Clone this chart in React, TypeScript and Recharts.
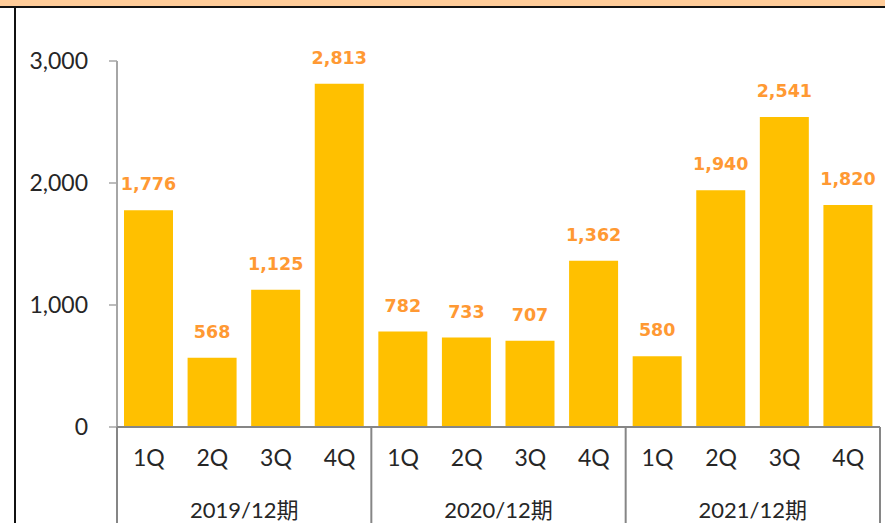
import React from 'react';
import { BarChart, Bar, XAxis, YAxis, LabelList } from 'recharts';

const quarters = ['1Q', '2Q', '3Q', '4Q', '1Q', '2Q', '3Q', '4Q', '1Q', '2Q', '3Q', '4Q'];
const periods = ['2019/12期', '2020/12期', '2021/12期'];
const values = [1776, 568, 1125, 2813, 782, 733, 707, 1362, 580, 1940, 2541, 1820];
const yTicks = [0, 1000, 2000, 3000];

const W = 885;
const H = 523;
const LEFT = 117;
const RIGHT = 5;
const BAND = (W - LEFT - RIGHT) / quarters.length;
const AXIS_GRAY = '#868686';
const FONT = "Lato, 'Noto Sans CJK JP', sans-serif";

const data = values.map((v, i) => ({
  q: quarters[i],
  period: periods[Math.floor(i / 4)],
  value: v,
}));

const fmt = (v: number) => v.toLocaleString('en-US');

// second row: period names centred under each group of four, plus dividers
function PeriodTick(props: any) {
  const { x, y, index } = props;
  const start = x - BAND / 2;
  const parts: React.ReactNode[] = [];
  if (index % 4 === 0) {
    parts.push(
      <line key="l" x1={start} x2={start} y1={y - 40} y2={y + 60} stroke={AXIS_GRAY} strokeWidth={2} />
    );
    parts.push(
      <text
        key="t"
        x={start + BAND * 2}
        y={y + 51}
        textAnchor="middle"
        fontSize={22}
        fontFamily={FONT}
        fill="#262626"
      >
        {periods[Math.floor(index / 4)]}
      </text>
    );
  }
  if (index === quarters.length - 1) {
    parts.push(
      <line key="e" x1={x + BAND / 2} x2={x + BAND / 2} y1={y - 40} y2={y + 60} stroke={AXIS_GRAY} strokeWidth={2} />
    );
  }
  return <g>{parts}</g>;
}

export default function App() {
  return (
    <div style={{ position: 'absolute', left: 0, top: 0, width: W, height: H, background: '#fff', overflow: 'hidden' }}>
      <div style={{ position: 'absolute', left: 0, top: 0, width: W, height: 6, background: '#FFCC99' }} />
      <div style={{ position: 'absolute', left: 0, top: 6, width: W, height: 2, background: '#111' }} />
      <div style={{ position: 'absolute', left: 14, top: 6, width: 2, height: H - 6, background: '#111' }} />
      <div style={{ position: 'absolute', left: 0, top: 0 }}>
        <BarChart width={W} height={H} data={data} margin={{ top: 61, right: RIGHT, left: 0, bottom: 0 }}>
          <YAxis
            width={LEFT}
            domain={[0, 3000]}
            ticks={yTicks}
            tickFormatter={fmt}
            axisLine={{ stroke: '#A6A6A6', strokeWidth: 2 }}
            tickLine={{ stroke: '#A6A6A6', strokeWidth: 1.5 }}
            tickSize={8}
            tickMargin={21}
            tick={{ fill: '#262626', fontSize: 23, fontFamily: FONT }}
          />
          <XAxis
            dataKey="q"
            height={40}
            interval={0}
            tickLine={false}
            axisLine={{ stroke: AXIS_GRAY, strokeWidth: 2 }}
            tickMargin={17}
            tick={{ fill: '#262626', fontSize: 23, fontFamily: FONT }}
          />
          <XAxis
            xAxisId="period"
            dataKey="period"
            height={56}
            interval={0}
            tickLine={false}
            axisLine={false}
            tickSize={0}
            tickMargin={0}
            tick={<PeriodTick />}
          />
          <Bar dataKey="value" fill="#FFC000" barSize={49} isAnimationActive={false}>
            <LabelList
              dataKey="value"
              position="top"
              offset={20}
              formatter={(v: any) => fmt(Number(v))}
              fill="#FF9933"
              fontSize={17.5}
              fontWeight="bold"
              fontFamily="'DejaVu Sans', Verdana, sans-serif"
            />
          </Bar>
        </BarChart>
      </div>
    </div>
  );
}
